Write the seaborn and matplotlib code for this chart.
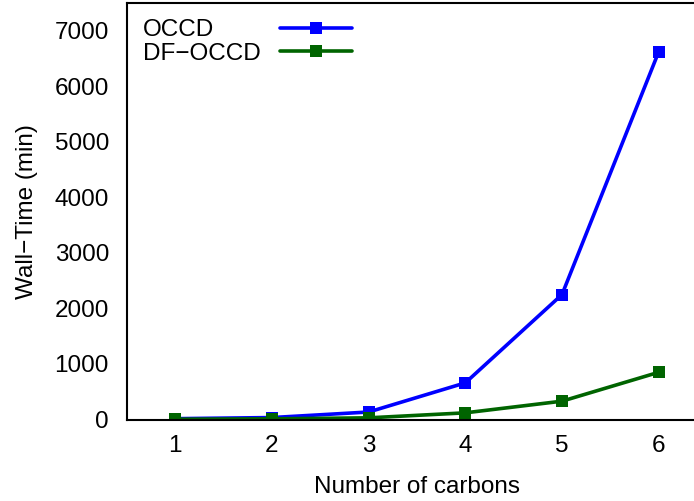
import matplotlib
matplotlib.use("Agg")
import matplotlib.pyplot as plt
import seaborn as sns
import pandas as pd

carbons = [1, 2, 3, 4, 5, 6]
occd = [15, 35, 135, 660, 2250, 6620]
df_occd = [5, 12, 30, 120, 330, 850]
series_names = ["OCCD", "DF\u2212OCCD"]
series_colors = ["#0000ff", "#006400"]

data = pd.DataFrame({
    "carbons": carbons * 2,
    "time": occd + df_occd,
    "method": [series_names[0]] * len(carbons) + [series_names[1]] * len(carbons),
})

sns.set_style("white")
plt.rcParams["font.family"] = ["Liberation Sans", "DejaVu Sans"]
plt.rcParams["text.color"] = "black"
plt.rcParams["axes.labelcolor"] = "black"
plt.rcParams["xtick.labelcolor"] = "black"
plt.rcParams["ytick.labelcolor"] = "black"
FS = 17.5

fig = plt.figure(figsize=(6.94, 5.01), dpi=100)
ax = fig.add_axes([127 / 694, 81.5 / 501, 580 / 694, 416.5 / 501])

sns.lineplot(data=data, x="carbons", y="time", hue="method",
             palette=series_colors, hue_order=series_names,
             marker="s", markersize=8.2, markeredgewidth=0,
             linewidth=2.6, ax=ax)

ax.set_xlim(0.5, 6.5)
ax.set_ylim(0, 7500)
ax.set_xticks(carbons)
ax.set_yticks(range(0, 7001, 1000))
ax.set_xlabel("Number of carbons", fontsize=FS, labelpad=13.5)
ax.set_ylabel("Wall\u2212Time (min)", fontsize=FS, labelpad=12)

ax.tick_params(axis="both", direction="in", length=6, width=1,
               color="#444444", labelsize=FS, labelcolor="black")
ax.tick_params(axis="y", pad=13)
ax.tick_params(axis="x", pad=11)
for side in ["left", "bottom", "top"]:
    ax.spines[side].set_color("black")
    ax.spines[side].set_linewidth(1.5)
ax.spines["right"].set_visible(False)

# gnuplot-style key: labels on the left, sample lines on the right
leg = ax.legend(loc="upper left", frameon=False, markerfirst=False,
                handlelength=2.96, fontsize=FS, borderaxespad=0,
                borderpad=0, handletextpad=0.78, labelspacing=0.08,
                bbox_to_anchor=(16 / 580, 1 - 16 / 416.5))
for t in leg.get_texts():
    t.set_color("black")

fig.canvas.draw()
renderer = fig.canvas.get_renderer()
widths = [t.get_window_extent(renderer).width for t in leg.get_texts()]
column = leg._legend_handle_box.get_children()[0]
column.align = "left"
for item, w in zip(column.get_children(), widths):
    item.sep += (max(widths) - w) * 72 / fig.dpi

fig.savefig("out.png", dpi=100)
